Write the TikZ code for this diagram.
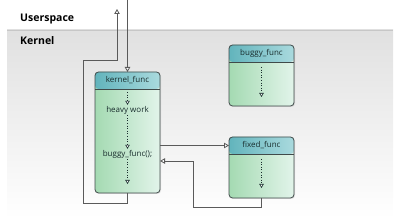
\documentclass[tikz,border=0pt]{standalone}
\usepackage{fontspec}
\setmainfont{Open Sans}
\usetikzlibrary{arrows.meta,shadows,positioning}
\definecolor{headl}{RGB}{98,180,188}
\definecolor{headr}{RGB}{170,218,222}
\definecolor{bodyl}{RGB}{164,218,178}
\definecolor{bodyr}{RGB}{226,244,234}
\definecolor{rand}{RGB}{64,74,74}
\definecolor{leitung}{RGB}{90,90,90}
\definecolor{schrift}{RGB}{25,45,45}

\begin{document}
\begin{tikzpicture}[
  x=1pt, y=-1pt,
  font=\fontsize{8}{9}\selectfont,
  conn/.style={-{Triangle[open, length=5pt, width=5.5pt, fill=white]}, leitung, line width=0.8pt},
  punkt/.style={-{Triangle[open, length=4pt, width=4.5pt, fill=white]}, schrift, line width=0.6pt, dotted},
  funcbox/.style={draw=rand, line width=0.8pt, rounded corners=3.5pt, outer sep=0pt,
                  minimum width=65pt, left color=bodyl, right color=bodyr,
                  drop shadow={shadow xshift=1pt, shadow yshift=-1pt, opacity=0.2},
                  path picture={
                    \shade[left color=headl, right color=headr]
                      (path picture bounding box.north west) rectangle
                      ([yshift=-17pt]path picture bounding box.north east);
                    \draw[rand, line width=0.8pt]
                      ([yshift=-17pt]path picture bounding box.north west) --
                      ([yshift=-17pt]path picture bounding box.north east);}},
  headtext/.style={anchor=north, minimum width=65pt, minimum height=17pt,
                   inner sep=0pt, outer sep=0pt, text=schrift},
  bodytext/.style={inner sep=1pt, text=schrift},
  bereich/.style={font=\fontsize{10.5}{12}\bfseries}
]
\useasboundingbox (0,0) rectangle (400,219);

% ---------- Userspace / Kernel -----------------------------------
\shade[top color=black!12, bottom color=white] (7,30) rectangle (393,219);
\draw[black!22, line width=0.8pt] (7,30) -- (393,30);
\node[bereich, anchor=west, inner sep=0pt] (user) at (20,19) {Userspace};
\node[bereich, anchor=west, inner sep=0pt] (kern) at (20,41) {Kernel};

% ---------- Funktionen -------------------------------------------
\node[funcbox, minimum height=121pt] (kernel) at (127.5,132.5) {};
\node[headtext] (kernelhead) at (kernel.north) {kernel\_func};

\node[funcbox, minimum height=61pt] (buggy) at (261.5,75.5) {};
\node[headtext] (buggyhead) at (buggy.north) {buggy\_func};

\node[funcbox, minimum height=61pt] (fixed) at (261.5,167.5) {};
\node[headtext] (fixedhead) at (fixed.north) {fixed\_func};

% ---------- Ablauf in kernel_func --------------------------------
\node[bodytext] (heavy) at (127.5,110) {heavy work};
\node[bodytext] (call) at (127.5,154) {buggy\_func();};
\coordinate (kernelend) at (127.5,184);
\draw[punkt] ([yshift=-3pt]kernelhead.south) -- (heavy.north);
\draw[punkt] (heavy.south) -- (call.north);
\draw[punkt] (call.south) -- (kernelend);

\coordinate (buggyend) at (261.5,97);
\draw[punkt] ([yshift=-5pt]buggyhead.south) -- (buggyend);
\coordinate (fixedend) at (261.5,188);
\draw[punkt] ([yshift=-5pt]fixedhead.south) -- (fixedend);

% ---------- Verbindungen -----------------------------------------
\coordinate (intop) at (127.5,0);
\coordinate (outtop) at (117,9);
\coordinate (schleife) at (83,60);
\coordinate (rueck) at (193,161);

\draw[conn] (intop) -- (kernelhead.north);
\draw[conn] (kernel.south) -- ++(0,10) -| (schleife) -| (outtop);
\draw[conn] (kernel.east |- fixedhead.west) -- (fixedhead.west);
\draw[conn] (fixed.south) -- ++(0,9) -| (rueck) -- (rueck -| kernel.east);

\end{tikzpicture}
\end{document}
